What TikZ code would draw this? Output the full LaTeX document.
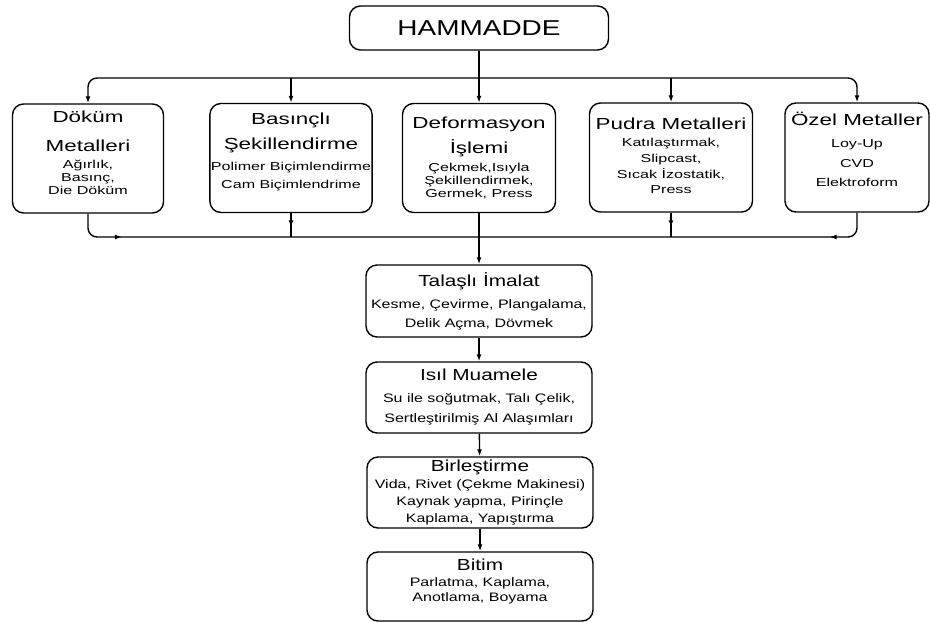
\documentclass[tikz,border=0pt]{standalone}
\usepackage{fontspec}
\setmainfont[FakeStretch=1.3]{Liberation Sans}
\newfontfamily\widefont[FakeStretch=1.4]{Liberation Sans}
\usetikzlibrary{arrows.meta, decorations.markings}

\newcommand{\bigtxt}{\fontsize{21.5}{25}\selectfont}
\newcommand{\headtxt}{\fontsize{16}{19}\selectfont}
\newcommand{\subtxt}{\fontsize{12.3}{15}\selectfont}
\newcommand{\smalltxt}{\widefont\fontsize{11.5}{13}\selectfont}
\newcommand{\padbelow}[1]{\rule[-#1]{0pt}{#1}}

\tikzset{
    stagebox/.style={draw, line width=1.4pt, rounded corners=11pt, align=center, inner sep=1pt},
    toprow/.style={stagebox, font=\smalltxt, minimum height=109pt},
    lowrow/.style={stagebox, font=\subtxt, minimum width=226pt},
    wire/.style={line width=1.4pt},
    flow/.style={wire, -{Latex[length=7pt,width=5pt]}},
    midarrow/.style={wire, postaction={decorate}, decoration={markings, mark=at position #1 with {\arrow{Latex[length=7pt,width=5pt]}}}}
}

\begin{document}
\begin{tikzpicture}[x=1pt, y=-1pt]
    \useasboundingbox (0,0) rectangle (930,623);

    \node[stagebox, minimum width=259pt, minimum height=44pt] (ham) at (479,28) {\bigtxt HAMMADDE};

    \node[toprow, minimum width=151pt] (dokum) at (88,158.5) {\headtxt Döküm\\[16pt] \headtxt Metalleri\\[4pt] Ağırlık,\\ Basınç,\\ Die Döküm\padbelow{12pt}};
    \node[toprow, minimum width=160pt] (basinc) at (291,158) {\headtxt Basınçlı\\[9pt] \headtxt Şekillendirme\\[8pt] Polimer Biçimlendirme\\[5pt] Cam Biçimlendrime\padbelow{15pt}};
    \node[toprow, minimum width=153pt] (deform) at (479,158) {\headtxt Deformasyon\\[6pt] \headtxt İşlemi\\[5pt] Çekmek,Isıyla\\ Şekillendirmek,\\ Germek, Press};
    \node[toprow, minimum width=163pt] (pudra) at (671,157.5) {\headtxt Pudra Metalleri\\[4.5pt] Katılaştırmak,\\[2.5pt] Slipcast,\\[3pt] Sıcak İzostatik,\\[2.5pt] Press\padbelow{4pt}};
    \node[toprow, minimum width=144pt] (ozel) at (857,157.5) {\headtxt Özel Metaller\\[9pt] Loy-Up\\[7pt] CVD\\[6.5pt] Elektroform\padbelow{16pt}};

    \coordinate (topbus) at (479,78);
    \coordinate (lowbus) at (479,237);

    \node[lowrow, minimum height=72pt] (talasli) at (479,301) {\headtxt Talaşlı İmalat\\[7pt] Kesme, Çevirme, Plangalama,\\[4pt] Delik Açma, Dövmek};
    \node[lowrow, minimum height=71pt] (isil) at (479,397.5) {\headtxt Isıl Muamele\\[7pt] Su ile soğutmak, Talı Çelik,\\[5pt] Sertleştirilmiş Al Alaşımları};
    \node[lowrow, minimum height=71pt] (birles) at (480,492.5) {\headtxt Birleştirme\\[2pt] Vida, Rivet (Çekme Makinesi)\\[2.5pt] Kaynak yapma, Pirinçle\\[1.5pt] Kaplama, Yapıştırma};
    \node[lowrow, minimum height=69pt] (bitim) at (480,586.5) {\headtxt Bitim\\[1pt] Parlatma, Kaplama,\\[0pt] Anotlama, Boyama\padbelow{12pt}};

    \draw[flow] (ham.south) -- (deform.north);
    \draw[flow, rounded corners=9pt] (topbus) -| (dokum.north);
    \draw[flow, rounded corners=9pt] (topbus) -| (ozel.north);
    \draw[flow] (basinc.north |- topbus) -- (basinc.north);
    \draw[flow] (pudra.north |- topbus) -- (pudra.north);

    \draw[midarrow=0.13, rounded corners=9pt] (dokum.south) |- (lowbus);
    \draw[midarrow=0.12, rounded corners=9pt] (ozel.south) |- (lowbus);
    \draw[midarrow=0.6] (basinc.south) -- (basinc.south |- lowbus);
    \draw[midarrow=0.6] (pudra.south) -- (pudra.south |- lowbus);

    \draw[flow] (deform.south) -- (talasli.north);
    \draw[flow] (talasli) -- (isil);
    \draw[flow] (isil) -- (birles);
    \draw[flow] (birles) -- (bitim);
\end{tikzpicture}
\end{document}
